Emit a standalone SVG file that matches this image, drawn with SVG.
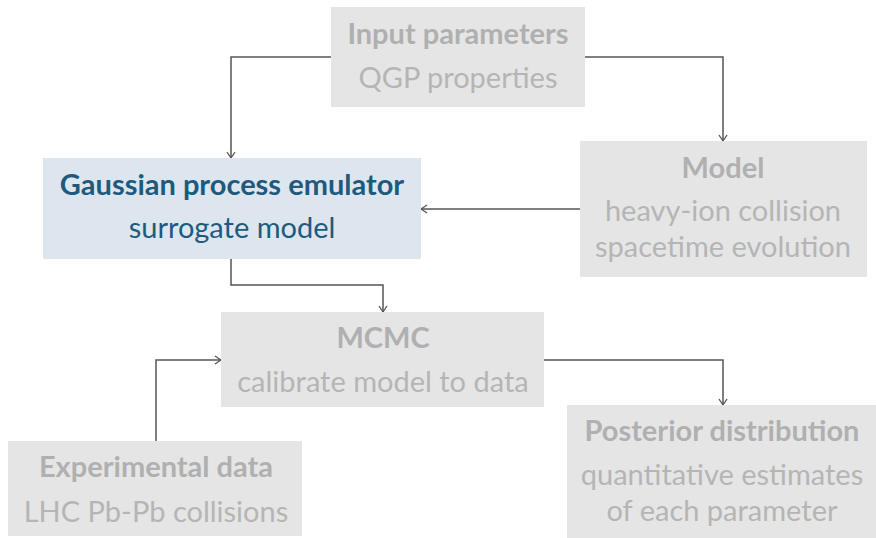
<svg xmlns="http://www.w3.org/2000/svg" width="876" height="538" viewBox="0 0 876 538">
<defs>
<marker id="arr" viewBox="0 0 10 10" refX="9" refY="5" markerWidth="10" markerHeight="10" markerUnits="userSpaceOnUse" orient="auto">
<path d="M3,1 L9,5 L3,9" fill="none" stroke="#555" stroke-width="1.3"/>
</marker>
<style>
.box{fill:#e5e5e5}
.hl{fill:#dde6ee}
text{font-family:Lato,"Liberation Sans",sans-serif;font-size:29px;text-anchor:middle}
.t{font-weight:bold;fill:#b0b0b0}
.s{fill:#b5b5b5}
.ht{font-weight:bold;fill:#1d5a7e}
.hs{fill:#1d5a7e}
.c{fill:none;stroke:#555;stroke-width:1.5;marker-end:url(#arr)}
</style>
</defs>
<rect width="876" height="538" fill="#fff"/>
<g id="connectors">
<path class="c" d="M331,57 H231 V158"/>
<path class="c" d="M585,57 H723 V141"/>
<path class="c" d="M580,209 H421"/>
<path class="c" d="M231,259 V285 H383 V312"/>
<path class="c" d="M156,441 V360 H221"/>
<path class="c" d="M544,360 H723 V405"/>
</g>
<g id="input">
<rect class="box" x="331" y="7" width="254" height="100"/>
<text class="t" x="458" y="44">Input parameters</text>
<text class="s" x="458" y="88">QGP properties</text>
</g>
<g id="emulator">
<rect class="hl" x="43" y="158" width="378" height="101"/>
<text class="ht" x="232" y="195">Gaussian process emulator</text>
<text class="hs" x="232" y="238">surrogate model</text>
</g>
<g id="model">
<rect class="box" x="580" y="141" width="287" height="136"/>
<text class="t" x="723" y="178">Model</text>
<text class="s" x="723" y="221">heavy-ion collision</text>
<text class="s" x="723" y="257">spacetime evolution</text>
</g>
<g id="mcmc">
<rect class="box" x="221" y="312" width="323" height="95"/>
<text class="t" x="383" y="348">MCMC</text>
<text class="s" x="383" y="392">calibrate model to data</text>
</g>
<g id="experimental">
<rect class="box" x="8" y="441" width="294" height="95"/>
<text class="t" x="156" y="477">Experimental data</text>
<text class="s" x="156" y="522">LHC Pb-Pb collisions</text>
</g>
<g id="posterior">
<rect class="box" x="567" y="405" width="309" height="133"/>
<text class="t" x="722" y="441">Posterior distribution</text>
<text class="s" x="722" y="485">quantitative estimates</text>
<text class="s" x="722" y="521">of each parameter</text>
</g>
</svg>
